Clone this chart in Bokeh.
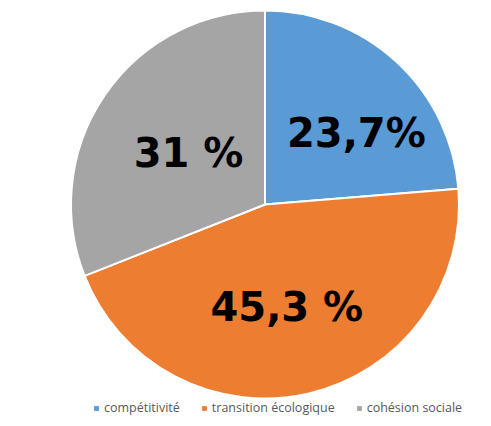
import numpy as np
from bokeh.plotting import figure
from bokeh.models import ColumnDataSource, Range1d
from bokeh.core.properties import value
from bokeh.embed import file_html
from bokeh.resources import INLINE

categories = ["compétitivité", "transition écologique", "cohésion sociale"]
shares = [23.7, 45.3, 31.0]
labels = ["23,7%", "45,3 %", "31 %"]
colors = ["#5B9BD5", "#ED7D31", "#A5A5A5"]

W, H = 485, 422
IMG_H = 426
cx, cy, r = 264.5, IMG_H - 204.0, 194.0

frac = np.array(shares) / sum(shares)
ends_cum = np.cumsum(frac)
starts_cum = ends_cum - frac
start_angle = np.pi / 2 - 2 * np.pi * starts_cum
end_angle = np.pi / 2 - 2 * np.pi * ends_cum
mid = (start_angle + end_angle) / 2

src = ColumnDataSource(dict(
    cat=categories, start=start_angle, end=end_angle, color=colors,
))

p = figure(width=W, height=H, output_backend="svg", toolbar_location=None,
           x_range=Range1d(0, W), y_range=Range1d(IMG_H - H, IMG_H),
           min_border=0, outline_line_color=None)
p.axis.visible = False
p.grid.visible = False

p.wedge(x=cx, y=cy, radius=r, start_angle="start", end_angle="end",
        direction="clock", fill_color="color", line_color="white",
        line_width=2, source=src)

# legend swatches (square, nothing drawn in the plot area: NaN coordinates)
nan = [float("nan")]
for cat, col in zip(categories, colors):
    p.quad(left=nan, right=nan, top=nan, bottom=nan, fill_color=col,
           line_color=None, legend_label=cat)

# label positions along mid-angle at fraction of radius, plus pixel nudges
lab_r = [0.60, 0.54, 0.47]
lx = [cx + rr * r * np.cos(a) for rr, a in zip(lab_r, mid)]
ly = [cy + rr * r * np.sin(a) for rr, a in zip(lab_r, mid)]
dx = [12.5, -2, -1]
dy = [14.5, 0, 0]
lsrc = ColumnDataSource(dict(x=lx, y=ly, t=labels, dx=dx, dy=dy))
p.text(x="x", y="y", text="t", source=lsrc, x_offset="dx", y_offset="dy",
       text_font=value("DejaVu Sans"),
       text_font_style="bold", text_font_size="40px", text_color="black",
       text_align="center", text_baseline="middle")

lg = p.legend[0]
lg.orientation = "horizontal"
lg.location = (93, 6)
lg.glyph_width = 6
lg.glyph_height = 6
lg.label_standoff = 5
lg.spacing = 21
lg.padding = 0
lg.margin = 0
lg.border_line_color = None
lg.background_fill_alpha = 0
lg.label_text_font = "Open Sans"
lg.label_text_font_size = "12.5px"
lg.label_text_color = "#595959"

open("out.html", "w").write(file_html(p, INLINE))
